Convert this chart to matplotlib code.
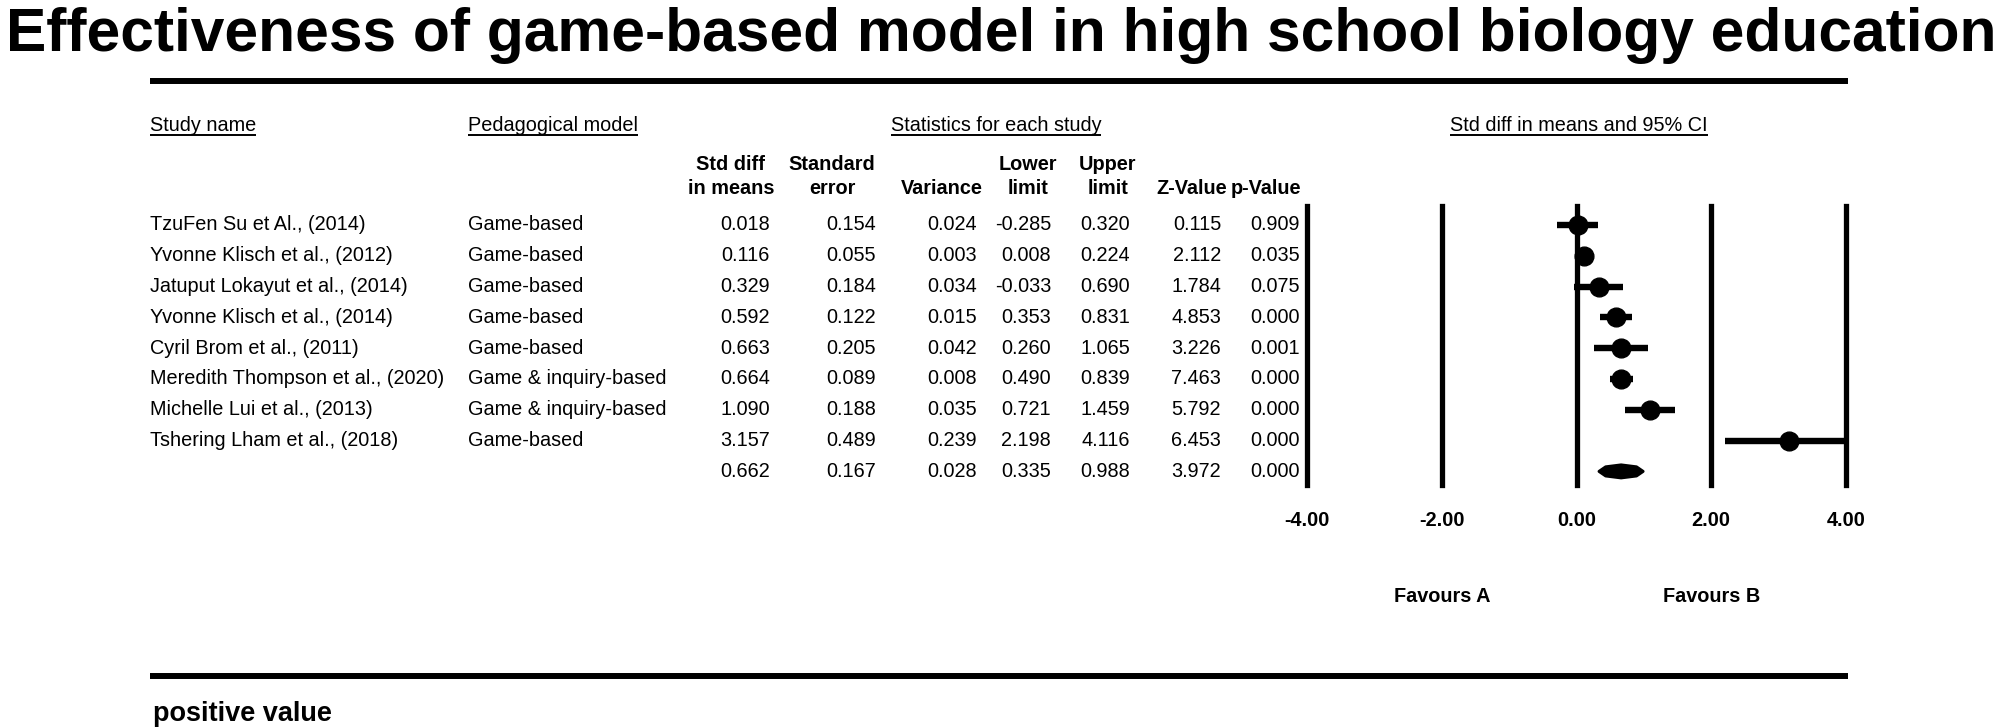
import matplotlib
matplotlib.use("Agg")
import matplotlib.pyplot as plt
from matplotlib.patches import Polygon

plt.rcParams['font.family'] = ['Liberation Sans', 'DejaVu Sans']

# ---------------- data ----------------
title = "Effectiveness of game-based model in high school biology education"
studies = ["TzuFen Su et Al., (2014)", "Yvonne Klisch et al., (2012)",
           "Jatuput Lokayut et al., (2014)", "Yvonne Klisch et al., (2014)",
           "Cyril Brom et al., (2011)", "Meredith Thompson et al., (2020)",
           "Michelle Lui et al., (2013)", "Tshering Lham et al., (2018)"]
models = ["Game-based", "Game-based", "Game-based", "Game-based", "Game-based",
          "Game & inquiry-based", "Game & inquiry-based", "Game-based"]
smd = [0.018, 0.116, 0.329, 0.592, 0.663, 0.664, 1.090, 3.157]
std_err = [0.154, 0.055, 0.184, 0.122, 0.205, 0.089, 0.188, 0.489]
variance = [0.024, 0.003, 0.034, 0.015, 0.042, 0.008, 0.035, 0.239]
lower = [-0.285, 0.008, -0.033, 0.353, 0.260, 0.490, 0.721, 2.198]
upper = [0.320, 0.224, 0.690, 0.831, 1.065, 0.839, 1.459, 4.116]
z_val = [0.115, 2.112, 1.784, 4.853, 3.226, 7.463, 5.792, 6.453]
p_val = [0.909, 0.035, 0.075, 0.000, 0.001, 0.000, 0.000, 0.000]
summary = [0.662, 0.167, 0.028, 0.335, 0.988, 3.972, 0.000]

col_headers = [("Std diff", "in means"), ("Standard", "error"), ("", "Variance"),
               ("Lower", "limit"), ("Upper", "limit"), ("", "Z-Value"), ("", "p-Value")]
x_ticks = [-4, -2, 0, 2, 4]
tick_labels = ["-4.00", "-2.00", "0.00", "2.00", "4.00"]
favours = ["Favours A", "Favours B"]
favours_x = [-2, 2]
footer = "positive value"

# ---------------- layout ----------------
W, H = 2000, 728
fig = plt.figure(figsize=(W / 100, H / 100), dpi=100)
ax = fig.add_axes([0, 0, 1, 1])
ax.set_xlim(0, W)
ax.set_ylim(H, 0)
ax.axis('off')

FS = 14.3
row_y0, row_dy = 225, 30.8
rows_y = [row_y0 + row_dy * i for i in range(len(studies) + 1)]

ax.text(6, 51, title, fontsize=43.6, fontweight='bold', ha='left', va='baseline')

# rules
ax.plot([150, 1848], [81, 81], color='black', lw=4.3, solid_capstyle='butt')
ax.plot([150, 1848], [676, 676], color='black', lw=4.3, solid_capstyle='butt')

# section headers (underlined)
fig.canvas.draw()
renderer = fig.canvas.get_renderer()
sections = [("Study name", 150, 'left'), ("Pedagogical model", 468, 'left'),
            ("Statistics for each study", 996, 'center'),
            ("Std diff in means and 95% CI", 1579, 'center')]
for txt, x, ha in sections:
    t = ax.text(x, 131, txt, fontsize=FS, ha=ha, va='baseline')
    bb = t.get_window_extent(renderer)
    ax.plot([bb.x0, bb.x1], [135, 135], color='black', lw=1.4, solid_capstyle='butt')

# column headers and numbers
col_right = [770, 876, 977, 1051, 1130, 1221, 1300]
col_center = [731, 832, 942, 1028, 1108, 1192, 1266]
columns = [smd, std_err, variance, lower, upper, z_val, p_val]
for (h1, h2), xc in zip(col_headers, col_center):
    if h1:
        ax.text(xc, 164, h1, fontsize=FS, fontweight='bold', ha='center', va='center')
    ax.text(xc, 189, h2, fontsize=FS, fontweight='bold', ha='center', va='center')

for i, y in enumerate(rows_y[:-1]):
    ax.text(150, y, studies[i], fontsize=FS, ha='left', va='center')
    ax.text(468, y, models[i], fontsize=FS, ha='left', va='center')
    for col, xr in zip(columns, col_right):
        ax.text(xr, y, f"{col[i]:.3f}", fontsize=FS, ha='right', va='center')
for v, xr in zip(summary, col_right):
    ax.text(xr, rows_y[-1], f"{v:.3f}", fontsize=FS, ha='right', va='center')

# ---------------- forest plot ----------------
fx0, fx1 = 1307, 1846
fy0, fy1 = 206, 485
fax = fig.add_axes([fx0 / W, 1 - fy1 / H, (fx1 - fx0) / W, (fy1 - fy0) / H])
fax.set_xlim(-4, 4)
fax.set_ylim((fy1 - row_y0) / row_dy, (fy0 - row_y0) / row_dy)
fax.axis('off')
fax.patch.set_alpha(0)

for xv in x_ticks:
    fax.axvline(xv, color='black', lw=3.8, clip_on=False)

for i in range(len(studies)):
    fax.plot([lower[i], upper[i]], [i, i], color='black', lw=4.6, solid_capstyle='butt')
    fax.plot(smd[i], i, marker='o', ms=13.5, color='black', mec='black')

# summary: rounded diamond built from the pooled estimate and its limits
k = len(studies)
est, lo, hi = summary[0], summary[3], summary[4]
hh = 0.21
pts = [[lo, k],
       [lo + 0.3 * (est - lo), k - 0.7 * hh], [est, k - hh], [hi - 0.3 * (hi - est), k - 0.7 * hh],
       [hi, k],
       [hi - 0.3 * (hi - est), k + 0.7 * hh], [est, k + hh], [lo + 0.3 * (est - lo), k + 0.7 * hh]]
fax.add_patch(Polygon(pts, closed=True, facecolor='black', edgecolor='black', lw=2.2,
                      joinstyle='round'))

for xv, lab in zip(x_ticks, tick_labels):
    px = fx0 + (xv - x_ticks[0]) / (x_ticks[-1] - x_ticks[0]) * (fx1 - fx0)
    ax.text(px, 520, lab, fontsize=FS, fontweight='bold', ha='center', va='center')
for xv, lab in zip(favours_x, favours):
    px = fx0 + (xv - x_ticks[0]) / (x_ticks[-1] - x_ticks[0]) * (fx1 - fx0)
    ax.text(px, 597, lab, fontsize=FS, fontweight='bold', ha='center', va='center')

ax.text(153, 714, footer, fontsize=19.5, fontweight='bold', ha='left', va='center')

fig.savefig("out.png", dpi=100, facecolor='white')
